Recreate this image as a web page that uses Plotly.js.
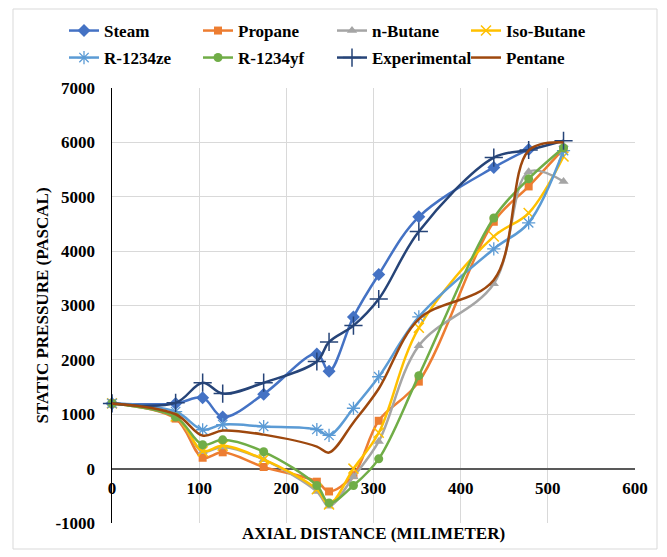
<!DOCTYPE html>
<html>
<head>
<meta charset="utf-8">
<script src="https://cdn.plot.ly/plotly-3.0.1.min.js"></script>
<style>
  html, body { margin: 0; padding: 0; background: #ffffff; }
  #chart { width: 667px; height: 557px; }
</style>
</head>
<body>
<div id="chart"></div>
<script>
// Axial positions (mm) of the pressure taps
const axialDistance = [0, 73, 104, 127, 174, 235, 249, 277, 306, 352, 438, 478, 518];
const steamDistance = [0, 73, 104, 127, 174, 235, 249, 277, 306, 352, 438, 478];

// Static pressure (Pa) along the nozzle for each working fluid
const steam        = [1200, 1200, 1305, 950, 1370, 2110, 1790, 2790, 3570, 4630, 5540, 5870];
const propane      = [1200, 920, 200, 300, 30, -240, -420, -120, 880, 1600, 4540, 5190, 5880];
const nButane      = [1200, 950, 310, 400, 165, -420, -690, -150, 500, 2260, 3400, 5460, 5280];
const isoButane    = [1200, 960, 320, 420, 170, -380, -660, 0, 660, 2590, 4270, 4700, 5740];
const r1234ze      = [1200, 1050, 715, 810, 775, 720, 610, 1110, 1690, 2790, 4040, 4520, 5850];
const r1234yf      = [1200, 950, 440, 530, 310, -310, -630, -310, 180, 1710, 4610, 5330, 5900];
const experimental = [1200, 1210, 1580, 1380, 1580, 1970, 2330, 2630, 3120, 4360, 5720, 5860, 6030];
const pentane      = [1200, 1000, 607, 700, 625, 405, 295, 850, 1470, 2750, 3470, 5850, 6000];

const seriesNames = ['Steam', 'Propane', 'n-Butane', 'Iso-Butane',
                     'R-1234ze', 'R-1234yf', 'Experimental', 'Pentane'];

// Pressure-axis ticks (plain hyphen for the negative label)
const pressureTicks  = [-1000, 0, 1000, 2000, 3000, 4000, 5000, 6000, 7000];
const pressureLabels = ['-1000', '0', '1000', '2000', '3000', '4000', '5000', '6000', '7000'];

const serif = '"Liberation Serif", "Times New Roman", serif';
const textFont = { family: serif, size: 17, color: '#000000', weight: 'bold' };

function series(name, x, y, color, marker, legendId) {
  const t = {
    type: 'scatter',
    mode: marker ? 'lines+markers' : 'lines',
    name: name,
    x: x,
    y: y,
    legend: legendId,
    line: { color: color, width: 2.5, shape: 'spline', smoothing: 1 },
    cliponaxis: false
  };
  if (marker) t.marker = marker;
  return t;
}

const traces = [
  series(seriesNames[0], steamDistance, steam, '#4472C4',
    { symbol: 'diamond', size: 10, color: '#4472C4' }, 'legend'),
  series(seriesNames[1], axialDistance, propane, '#ED7D31',
    { symbol: 'square', size: 8, color: '#ED7D31' }, 'legend'),
  series(seriesNames[2], axialDistance, nButane, '#A5A5A5',
    { symbol: 'triangle-up', size: 9, color: '#A5A5A5' }, 'legend'),
  series(seriesNames[3], axialDistance, isoButane, '#FFC000',
    { symbol: 'x-thin-open', size: 10, color: '#FFC000', line: { color: '#FFC000', width: 1.5 } }, 'legend'),
  series(seriesNames[4], axialDistance, r1234ze, '#5B9BD5',
    { symbol: 'asterisk-open', size: 11, color: '#5B9BD5', line: { color: '#5B9BD5', width: 1.3 } }, 'legend2'),
  series(seriesNames[5], axialDistance, r1234yf, '#70AD47',
    { symbol: 'circle', size: 9, color: '#70AD47' }, 'legend2'),
  series(seriesNames[6], axialDistance, experimental, '#264478',
    { symbol: 'cross-thin-open', size: 13, color: '#264478', line: { color: '#264478', width: 1.5 } }, 'legend2'),
  series(seriesNames[7], axialDistance, pentane, '#9E480E', null, 'legend2')
];

// plot area spans x 112..635 px and y 88..523 px
const legendCommon = {
  orientation: 'h',
  xref: 'paper', yref: 'paper',
  x: (64 - 112) / 523, xanchor: 'left',
  yanchor: 'middle',
  font: textFont,
  bgcolor: 'rgba(0,0,0,0)',
  itemwidth: 30,
  entrywidth: 89,
  traceorder: 'normal'
};

const layout = {
  width: 667,
  height: 557,
  margin: { l: 112, r: 32, t: 88, b: 34 },
  paper_bgcolor: '#ffffff',
  plot_bgcolor: '#ffffff',
  font: { family: serif, size: 17, color: '#000000' },
  showlegend: true,
  legend: Object.assign({}, legendCommon, { y: (523 - 31) / 435 }),
  legend2: Object.assign({}, legendCommon, { y: (523 - 58) / 435 }),
  xaxis: {
    range: [0, 600],
    dtick: 100,
    tick0: 0,
    anchor: 'free',
    position: 0.125,
    showgrid: true,
    gridcolor: '#d9d9d9',
    gridwidth: 1,
    zeroline: false,
    showline: false,
    ticks: 'outside',
    ticklen: 4,
    tickcolor: 'rgba(0,0,0,0)',
    tickfont: textFont,
    title: {
      text: 'AXIAL DISTANCE (MILIMETER)',
      font: textFont,
      standoff: 30
    },
    automargin: false,
    fixedrange: true
  },
  yaxis: {
    range: [-1000, 7000],
    tickmode: 'array',
    tickvals: pressureTicks,
    ticktext: pressureLabels,
    showgrid: true,
    gridcolor: '#d9d9d9',
    gridwidth: 1,
    zeroline: true,
    zerolinecolor: '#595959',
    zerolinewidth: 2,
    showline: true,
    linecolor: '#000000',
    linewidth: 1.5,
    ticks: 'outside',
    ticklen: 12,
    tickcolor: 'rgba(0,0,0,0)',
    tickfont: textFont,
    title: {
      text: 'STATIC PRESSURE (PASCAL)',
      font: textFont,
      standoff: 2
    },
    automargin: false,
    fixedrange: true
  },
  shapes: [{
    // chart-area frame
    type: 'rect',
    xref: 'paper', yref: 'paper',
    x0: (13 - 112) / 523, x1: (657 - 112) / 523,
    y0: (523 - 549) / 435, y1: (523 - 9) / 435,
    line: { color: '#d9d9d9', width: 1 },
    fillcolor: 'rgba(0,0,0,0)',
    layer: 'below'
  }]
};

Plotly.newPlot('chart', traces, layout, { displayModeBar: false, staticPlot: true });
</script>
</body>
</html>
